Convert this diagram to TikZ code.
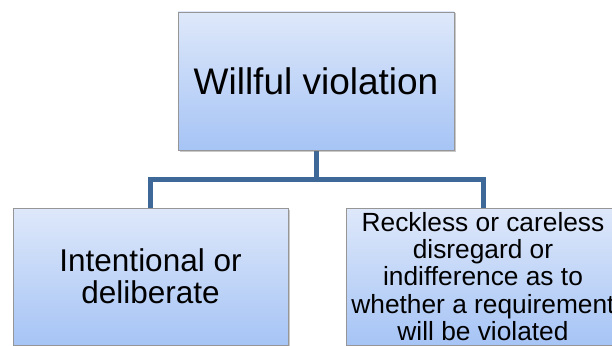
\documentclass[tikz,border=0pt]{standalone}
\usepackage{fontspec}
\setmainfont{Liberation Sans}
\usetikzlibrary{shadows}
\definecolor{boxtop}{RGB}{222,232,250}
\definecolor{boxbot}{RGB}{166,196,245}
\definecolor{boxline}{RGB}{150,150,150}
\definecolor{connc}{RGB}{62,104,152}
\tikzset{
  box/.style={rectangle, draw=boxline, line width=0.6pt, top color=boxtop, bottom color=boxbot,
    inner sep=0pt, align=center, text=black,
    drop shadow={shadow xshift=1.5pt, shadow yshift=-1.5pt, opacity=0.35, fill=black!60}},
  conn/.style={draw=connc, line width=5pt, line join=miter}
}
\begin{document}
\begin{tikzpicture}[x=1pt,y=-1pt]
\clip (0,0) rectangle (612,345);
\fill[white] (0,0) rectangle (612,345);
\draw[conn] (316,150) -- (316,179);
\draw[conn] (150.5,208) |- (483,179) -- (483,208);
\node[box, minimum width=276pt, minimum height=138pt, font=\fontsize{37}{40}\selectfont] (top) at (316,81)
  {Willful violation};
\node[box, minimum width=275pt, minimum height=137pt, font=\fontsize{31.5}{32}\selectfont] (left) at (150.5,276.5)
  {Intentional or\\deliberate};
\node[box, minimum width=274pt, minimum height=137pt, font=\fontsize{26.3}{27.3}\selectfont] (right) at (483,276.5)
  {Reckless or careless\\disregard or\\indifference as to\\whether a requirement\\will be violated};
\end{tikzpicture}
\end{document}
